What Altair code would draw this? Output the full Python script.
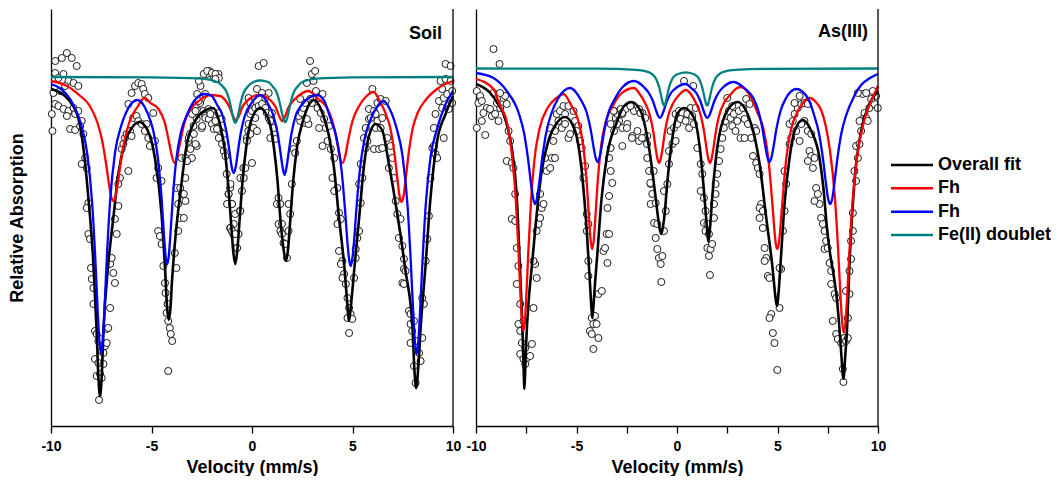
import altair as alt
import pandas as pd

# ---------------- Soil panel ----------------
soil_counts = [
    (-9.79, 365), (-9.46, 368), (-9.21, 373), (-8.97, 368), (-8.72, 360),
    (-9.79, 353), (-9.63, 348), (-9.38, 352), (-9.13, 345), (-8.88, 343), (-8.64, 340),
    (-9.88, 333), (-9.30, 340), (-9.55, 335), (-9.79, 322), (-9.63, 320), (-9.38, 317),
    (-9.13, 315), (-8.88, 318), (-9.96, 312), (-9.21, 310), (-8.80, 312), (-8.64, 315),
    (-8.47, 305), (-9.05, 297), (-8.80, 296), (-9.93, 295), (-8.55, 300), (-8.39, 292),
    (-8.30, 268), (-8.47, 262), (-8.22, 258), (-8.14, 223), (-8.22, 218), (-8.14, 192),
    (-8.06, 187), (-8.01, 158), (-7.97, 147), (-7.89, 138), (-7.89, 122), (-7.81, 95),
    (-7.73, 92), (-7.64, 85), (-7.56, 87), (-7.48, 75), (-7.39, 73), (-7.31, 80),
    (-7.23, 83), (-7.81, 67), (-7.64, 63), (-7.73, 50), (-7.56, 52), (-7.48, 48),
    (-7.39, 62), (-7.61, 26), (-7.23, 97), (-7.15, 98), (-7.06, 118), (-7.06, 162),
    (-6.98, 168), (-6.90, 153), (-6.82, 143), (-6.73, 192), (-6.82, 207), (-6.65, 220),
    (-6.57, 248), (-6.65, 242), (-6.48, 277), (-6.40, 282), (-6.32, 288), (-6.15, 255),
    (-6.24, 292), (-6.07, 295), (-5.99, 290), (-5.91, 308), (-5.74, 310), (-6.15, 322),
    (-5.99, 333), (-5.82, 340), (-5.66, 343), (-5.49, 342), (-5.41, 337), (-5.33, 332),
    (-5.16, 328), (-5.66, 305), (-5.49, 302), (-5.24, 302), (-5.33, 295), (-5.16, 288),
    (-5.08, 280), (-4.91, 313), (-4.83, 285), (-4.67, 258), (-4.75, 248), (-4.50, 245),
    (-4.67, 195), (-4.58, 190), (-4.50, 182), (-4.41, 160), (-4.33, 143), (-4.30, 133),
    (-4.20, 122), (-4.25, 113), (-4.17, 105), (-4.09, 98), (-4.04, 92), (-3.97, 85),
    (-4.17, 55), (-3.84, 173), (-3.76, 158), (-3.67, 195), (-3.59, 208), (-3.67, 222),
    (-3.76, 238), (-3.51, 268),
    (-3.57, 238), (-3.49, 232), (-3.32, 248), (-3.24, 265), (-3.16, 285), (-3.08, 292),
    (-2.99, 268), (-2.75, 280), (-2.91, 300), (-2.75, 307), (-2.66, 315), (-2.58, 323),
    (-2.50, 328), (-2.33, 332), (-2.25, 352), (-2.12, 355), (-1.92, 350), (-1.67, 352),
    (-2.42, 315), (-2.17, 317), (-2.33, 310), (-2.50, 298), (-1.92, 310), (-1.67, 313),
    (-1.75, 298), (-1.51, 307), (-1.59, 295), (-1.42, 292), (-1.26, 252), (-1.09, 238),
    (-1.17, 232), (-1.01, 222), (-1.09, 198), (-1.01, 195), (-0.93, 192), (-0.84, 212),
    (-0.76, 178), (-0.67, 192), (-0.60, 215), (-0.51, 248), (-0.43, 258), (-0.26, 288),
    (-0.18, 295),
    (-3.39, 232), (-3.31, 225), (-3.39, 208), (-3.31, 268), (-3.23, 265), (-3.06, 277),
    (-2.81, 282), (-3.14, 288), (-2.89, 292), (-2.98, 312), (-2.81, 315), (-2.65, 325),
    (-2.73, 332), (-2.56, 340), (-2.65, 345), (-2.40, 352), (-2.23, 355), (-1.99, 353),
    (-1.82, 352), (-1.65, 348), (-1.82, 347), (-2.48, 300), (-2.32, 308), (-2.15, 307),
    (-2.07, 312), (-1.99, 302), (-1.90, 297), (-1.74, 297), (-1.65, 288), (-1.82, 305),
    (-1.49, 282), (-1.41, 275), (-1.32, 270), (-1.07, 242), (-1.16, 232), (-1.24, 222),
    (-0.99, 222), (-0.91, 202), (-1.07, 198), (-0.99, 195), (-0.83, 192), (-0.74, 178),
    (-0.58, 215), (-0.50, 235), (-0.58, 248), (-0.41, 248), (0.00, 263), (-0.33, 258),
    (-0.25, 285), (-0.08, 292), (-0.17, 302), (0.08, 298), (0.16, 308), (0.25, 295),
    (-0.08, 312), (0.00, 315), (0.16, 318), (0.33, 320), (0.50, 322), (0.66, 318),
    (0.74, 313), (0.83, 308), (0.91, 305), (0.99, 313), (1.08, 298), (0.91, 288),
    (1.16, 287), (0.33, 360), (0.58, 363), (-0.17, 328), (-0.08, 323), (0.25, 337),
    (0.50, 333), (0.83, 333), (0.66, 328), (1.32, 228), (1.24, 222), (1.41, 222),
    (1.32, 202), (1.49, 202), (1.41, 195), (1.49, 192), (1.57, 183), (1.65, 182),
    (1.74, 168), (1.82, 195), (1.90, 212), (1.82, 222), (1.98, 242), (2.07, 277),
    (2.15, 273), (2.23, 285), (2.40, 305), (2.32, 310), (2.48, 313), (2.56, 318),
    (2.65, 303), (2.81, 302), (2.73, 307), (2.40, 327), (2.65, 323), (2.89, 327),
    (2.98, 323), (2.73, 343), (2.98, 352), (2.89, 365), (3.14, 355), (3.06, 345),
    (3.18, 335), (3.34, 328), (3.51, 332), (3.26, 318), (3.42, 313), (3.59, 307),
    (3.34, 298), (3.67, 298), (3.84, 300), (3.51, 280), (3.76, 285), (3.92, 277),
    (4.09, 268), (4.00, 248), (4.25, 238), (4.09, 235), (4.33, 213), (4.42, 207),
    (4.25, 202), (4.33, 175), (4.50, 165), (4.42, 162), (4.58, 152), (4.50, 148),
    (4.67, 142), (4.75, 128), (4.83, 118), (4.91, 112), (4.75, 108), (4.99, 107),
    (4.83, 93), (5.08, 148), (5.16, 168), (5.24, 188), (5.33, 195), (5.16, 177),
    (5.41, 223), (5.33, 242), (5.49, 248), (5.41, 262), (5.66, 278), (5.57, 288),
    (5.74, 285), (5.82, 307), (5.66, 298), (5.91, 308), (5.82, 317), (6.07, 315),
    (6.15, 312), (6.24, 305), (6.15, 298), (6.40, 298), (6.07, 277), (6.32, 277),
    (6.48, 278), (6.24, 323), (6.40, 327), (6.65, 325), (6.48, 308), (5.99, 337),
    (6.73, 288), (6.90, 280), (6.98, 268), (6.81, 258), (7.06, 248), (7.15, 225),
    (7.23, 212), (7.39, 207), (7.31, 188), (7.48, 180), (7.56, 167), (7.56, 157),
    (7.64, 155), (7.48, 143), (7.56, 142), (7.81, 115), (7.89, 112), (7.89, 102),
    (8.06, 105), (7.97, 95), (7.89, 83), (8.14, 85), (8.31, 73), (8.39, 65),
    (8.06, 60), (8.14, 43), (8.47, 88), (8.55, 122), (8.47, 128), (8.64, 165),
    (8.72, 187), (8.80, 210), (8.88, 248), (8.97, 278), (9.05, 280), (9.13, 272),
    (9.21, 268), (9.05, 298), (9.13, 312), (9.46, 318), (9.30, 325), (9.54, 328),
    (9.71, 332), (9.46, 337), (9.38, 345), (9.63, 347), (9.88, 345), (9.96, 335),
    (9.54, 288), (9.79, 317), (9.96, 323), (9.63, 362), (9.88, 360),
]

soil_overall = [
    (-10, 337), (-9.6, 334), (-9.3, 330), (-8.9, 320), (-8.64, 308), (-8.4, 280),
    (-8.14, 228), (-7.89, 162), (-7.73, 95), (-7.64, 48), (-7.56, 30), (-7.48, 48),
    (-7.39, 95), (-7.15, 162), (-6.9, 208), (-6.65, 252), (-6.32, 284), (-5.95, 299),
    (-5.6, 304), (-5.2, 296), (-4.83, 268), (-4.5, 212), (-4.32, 155), (-4.22, 117),
    (-4.14, 106), (-4.06, 117), (-3.98, 145), (-3.78, 195), (-3.57, 232), (-3.24, 282),
    (-2.74, 308), (-2.3, 316), (-1.94, 318), (-1.6, 302), (-1.35, 275), (-1.18, 240),
    (-1.03, 200), (-0.93, 174), (-0.83, 162), (-0.73, 176), (-0.62, 205), (-0.47, 245),
    (-0.28, 280), (-0.05, 305), (0.4, 318), (0.85, 305), (1.08, 280), (1.27, 245),
    (1.42, 205), (1.57, 177), (1.69, 165), (1.8, 178), (1.9, 205), (2.05, 245),
    (2.25, 280), (2.55, 306), (3.1, 326), (3.5, 313), (3.83, 290), (4.08, 258),
    (4.33, 208), (4.6, 158), (4.73, 125), (4.83, 105), (4.93, 122), (5.08, 155),
    (5.33, 208), (5.57, 260), (5.82, 290), (6.15, 302), (6.49, 295), (6.81, 262),
    (7.23, 212), (7.64, 155), (7.98, 100), (8.08, 56), (8.17, 38), (8.27, 58),
    (8.39, 98), (8.64, 162), (8.88, 228), (9.21, 285), (9.63, 312), (10, 330),
]

soil_fh_red = [
    (-10, 345), (-9.2, 340), (-8.6, 331), (-8.1, 321), (-7.7, 304), (-7.45, 285),
    (-7.25, 261), (-7.1, 240), (-7.0, 229), (-6.9, 225), (-6.8, 229), (-6.7, 240),
    (-6.55, 261), (-6.35, 285), (-6.1, 304), (-5.7, 319), (-5.35, 328), (-5.05, 323),
    (-4.65, 317), (-4.35, 304), (-4.1, 281), (-4.0, 271), (-3.85, 263), (-3.7, 271),
    (-3.6, 281), (-3.35, 304), (-3.05, 317), (-2.65, 325), (-2.1, 331), (-1.6, 330),
    (-1.3, 325), (-1.1, 318), (-0.95, 310), (-0.8, 306), (-0.65, 310), (-0.5, 318),
    (-0.3, 324), (0.0, 329), (0.35, 331), (0.7, 329), (1.0, 324), (1.2, 318),
    (1.35, 310), (1.5, 305), (1.65, 310), (1.8, 318), (2.0, 324), (2.3, 330),
    (2.8, 335), (3.3, 327), (3.7, 319), (4.0, 305), (4.25, 282), (4.35, 271),
    (4.5, 263), (4.65, 271), (4.75, 282), (5.0, 305), (5.3, 319), (5.7, 330),
    (6.05, 334), (6.35, 325), (6.64, 313), (6.89, 297), (7.09, 272), (7.24, 246),
    (7.34, 230), (7.44, 224), (7.54, 230), (7.64, 246), (7.79, 272), (7.99, 297),
    (8.24, 313), (8.64, 326), (9.2, 337), (10, 345),
]

soil_fh_blue = [
    (-10, 342), (-9.5, 337), (-8.91, 322), (-8.51, 302), (-8.21, 274), (-7.96, 225),
    (-7.79, 165), (-7.67, 112), (-7.59, 84), (-7.51, 73), (-7.43, 84), (-7.35, 112),
    (-7.23, 165), (-7.06, 225), (-6.81, 274), (-6.51, 300), (-6.15, 318), (-5.7, 326),
    (-5.22, 314), (-4.92, 296), (-4.67, 266), (-4.5, 228), (-4.38, 191), (-4.3, 170),
    (-4.22, 162), (-4.14, 170), (-4.06, 191), (-3.94, 228), (-3.77, 266), (-3.52, 295),
    (-3.22, 312), (-2.8, 327), (-2.35, 332), (-2.0, 330), (-1.76, 322), (-1.46, 310),
    (-1.26, 293), (-1.11, 273), (-1.01, 259), (-0.91, 253), (-0.81, 259), (-0.71, 273),
    (-0.56, 293), (-0.36, 310), (-0.06, 322), (0.45, 331), (0.77, 323), (1.07, 310),
    (1.27, 293), (1.42, 273), (1.52, 259), (1.62, 251), (1.72, 259), (1.82, 273),
    (1.97, 293), (2.17, 310), (2.47, 321), (2.9, 329), (3.25, 331), (3.6, 325),
    (3.91, 307), (4.21, 288), (4.46, 255), (4.63, 216), (4.75, 183), (4.83, 167),
    (4.91, 160), (4.99, 167), (5.07, 183), (5.19, 216), (5.36, 255), (5.61, 288),
    (5.91, 307), (6.25, 320), (6.55, 325), (6.85, 317), (7.19, 298), (7.49, 270),
    (7.74, 220), (7.91, 160), (8.03, 110), (8.11, 83), (8.19, 72), (8.27, 83),
    (8.35, 110), (8.47, 160), (8.64, 220), (8.89, 270), (9.19, 296), (9.59, 320),
    (10, 335),
]

soil_fe2 = [
    (-10, 349), (-5, 348.6), (-2.5, 347.3), (-1.68, 343.5), (-1.43, 339), (-1.26, 334),
    (-1.11, 324.5), (-0.98, 312), (-0.9, 305.5), (-0.83, 303), (-0.76, 305.5),
    (-0.68, 312), (-0.55, 324.5), (-0.4, 334), (-0.23, 339), (0.07, 344), (0.41, 345.5),
    (0.8, 344), (1.05, 339), (1.22, 334), (1.37, 324), (1.5, 312), (1.58, 306),
    (1.65, 304), (1.72, 306), (1.8, 312), (1.93, 324), (2.08, 334), (2.25, 339),
    (2.5, 344), (3.2, 347.3), (5, 348.6), (10, 349),
]

# ---------------- As(III) panel ----------------
as_counts = [
    (-9.13, 377), (-8.83, 362), (-9.96, 335), (-9.79, 330), (-9.88, 323), (-9.71, 325),
    (-9.46, 318), (-9.30, 317), (-9.63, 313), (-9.71, 305), (-9.96, 298), (-9.54, 291),
    (-9.21, 310), (-9.05, 312), (-8.88, 305), (-8.80, 318), (-8.96, 323), (-8.63, 328),
    (-8.55, 330), (-9.13, 333), (-8.80, 333), (-8.47, 322), (-8.38, 295), (-8.30, 285),
    (-8.47, 265), (-8.22, 263), (-8.14, 258), (-8.05, 232), (-8.22, 207), (-8.05, 205),
    (-7.97, 178), (-7.89, 160), (-7.97, 142), (-7.80, 122), (-7.89, 102), (-7.80, 95),
    (-7.64, 105), (-7.72, 83), (-7.55, 78), (-7.80, 72), (-7.64, 67), (-7.47, 68),
    (-7.31, 70), (-7.55, 62), (-7.22, 82), (-7.14, 118), (-7.06, 162), (-6.98, 148),
    (-7.14, 165), (-6.98, 195), (-6.89, 202), (-6.81, 208), (-6.73, 218), (-6.64, 222),
    (-6.81, 232), (-6.56, 268), (-6.48, 255), (-6.31, 258), (-6.23, 268), (-6.07, 268),
    (-6.15, 285), (-6.31, 298), (-6.07, 295), (-5.90, 305), (-5.73, 298), (-5.57, 302),
    (-5.40, 288), (-5.32, 292), (-5.98, 312), (-5.82, 315), (-5.65, 320), (-5.57, 312),
    (-5.40, 320), (-5.15, 315), (-5.07, 305), (-4.91, 300), (-4.99, 295), (-4.82, 285),
    (-4.74, 278), (-4.57, 260), (-4.66, 248), (-4.49, 212), (-4.41, 202), (-4.49, 195),
    (-4.41, 165), (-4.41, 150), (-4.24, 108), (-4.08, 110), (-4.16, 102), (-4.00, 102),
    (-4.33, 95), (-4.24, 92), (-4.16, 77), (-3.91, 88), (-3.91, 132), (-3.74, 135),
    (-3.66, 175), (-3.58, 178), (-3.50, 192),
    (-3.46, 218), (-3.38, 192), (-3.46, 163), (-3.38, 230), (-3.30, 255), (-3.22, 243),
    (-3.38, 268), (-3.30, 278), (-3.13, 295), (-3.30, 302), (-3.05, 308), (-2.97, 312),
    (-2.80, 317), (-3.13, 315), (-2.72, 312), (-2.55, 317), (-2.30, 320), (-2.14, 315),
    (-1.89, 317), (-1.72, 313), (-2.88, 305), (-2.72, 298), (-2.47, 302), (-2.22, 290),
    (-1.97, 295), (-1.64, 288), (-1.48, 290), (-2.72, 280), (-1.89, 285), (-1.48, 268),
    (-1.39, 255), (-1.31, 242), (-1.23, 232), (-1.31, 222), (-1.06, 223), (-1.14, 203),
    (-0.98, 202), (-1.06, 188), (-0.98, 177), (-0.90, 168), (-0.81, 162), (-0.73, 170),
    (-0.78, 144), (-0.65, 195), (-0.56, 215), (-0.65, 235), (-0.48, 242), (-0.40, 262),
    (-0.40, 275), (-0.23, 282), (-0.07, 285), (-0.32, 295), (-0.15, 298), (0.02, 302),
    (-0.07, 312), (0.10, 315), (0.26, 313), (0.18, 307), (0.43, 305), (0.60, 298),
    (0.51, 312), (0.76, 310), (0.84, 302), (0.68, 318), (0.35, 345), (0.81, 340),
    (0.93, 318), (1.01, 278), (1.18, 262), (1.26, 252), (1.18, 235), (1.34, 228),
    (1.42, 215), (1.34, 203), (1.51, 202), (1.42, 195), (1.59, 192), (1.51, 178),
    (1.67, 177), (1.59, 170), (1.75, 182), (1.64, 151), (1.84, 208), (1.84, 222),
    (1.92, 232), (1.92, 242), (2.00, 252), (2.09, 265), (2.17, 277), (2.25, 288),
    (2.33, 298), (2.42, 305), (2.50, 310), (2.58, 315), (2.67, 308), (2.75, 300),
    (2.91, 295), (2.83, 312), (3.00, 305), (3.08, 315), (2.50, 328), (2.75, 320),
    (3.16, 288),
    (-3.15, 315), (-2.73, 313), (-2.32, 320), (-1.82, 313), (-1.58, 308), (-2.98, 302),
    (-2.49, 298), (-2.24, 288), (-1.74, 288), (-1.49, 282), (-1.16, 255), (-1.33, 243),
    (3.44, 327), (3.28, 318), (3.61, 322), (3.36, 307), (3.53, 302), (3.86, 298),
    (3.69, 288), (3.36, 288), (3.94, 295), (3.78, 270), (3.94, 263), (4.02, 258),
    (4.11, 252), (4.19, 222), (4.11, 218), (4.27, 215), (4.11, 208), (4.27, 198),
    (4.36, 178), (4.44, 168), (4.36, 165), (4.52, 150), (4.60, 148), (4.69, 112),
    (4.60, 108), (4.77, 93), (4.85, 83), (4.99, 56), (5.10, 118), (5.18, 157),
    (5.10, 158), (5.27, 195), (5.35, 215), (5.43, 242), (5.35, 255), (5.60, 282),
    (5.68, 288), (5.60, 302), (5.76, 305), (5.85, 312), (6.01, 318), (6.18, 322),
    (6.34, 323), (6.51, 322), (5.85, 323), (6.10, 330), (6.34, 305), (6.18, 302),
    (5.93, 295), (6.51, 295), (6.68, 292), (6.10, 285), (6.59, 275), (6.68, 270),
    (6.51, 265), (6.84, 268), (6.76, 258), (6.92, 238), (7.01, 232), (7.09, 222),
    (6.84, 225), (7.17, 208), (7.26, 202), (7.34, 195), (7.42, 185), (7.34, 177),
    (7.50, 178), (7.59, 163), (7.67, 155), (7.67, 142), (7.84, 132), (7.92, 128),
    (7.75, 105), (7.92, 92), (8.00, 87), (8.17, 83), (8.25, 87), (8.33, 88),
    (8.41, 85), (8.25, 57), (8.28, 44), (8.50, 88), (8.50, 108), (8.58, 132),
    (8.41, 135), (8.58, 155), (8.66, 167), (8.66, 185), (8.75, 195), (8.75, 213),
    (8.91, 245), (8.83, 255), (9.00, 268), (8.91, 280), (9.08, 282), (9.16, 295),
    (9.24, 307), (9.08, 305), (9.33, 313), (9.41, 308), (9.49, 305), (9.57, 318),
    (9.24, 332), (9.41, 333), (9.74, 335), (9.91, 330), (9.82, 322), (9.99, 318),
    (9.66, 327), (9.00, 333),
]

as_overall = [
    (-10, 342), (-9.29, 333), (-8.9, 322), (-8.63, 312), (-8.4, 296), (-8.22, 278),
    (-7.97, 228), (-7.8, 152), (-7.67, 85), (-7.63, 57), (-7.59, 37), (-7.55, 57),
    (-7.5, 85), (-7.36, 130), (-7.23, 158), (-6.98, 212), (-6.73, 255), (-6.4, 285),
    (-5.98, 303), (-5.57, 309), (-5.07, 295), (-4.74, 255), (-4.49, 195), (-4.35, 150),
    (-4.28, 125), (-4.21, 108), (-4.14, 125), (-4.07, 145), (-3.99, 165), (-3.75, 228),
    (-3.5, 268), (-2.97, 305), (-2.63, 320), (-2.27, 324), (-1.81, 315), (-1.39, 278),
    (-1.06, 228), (-0.92, 205), (-0.85, 196), (-0.78, 192), (-0.7, 199), (-0.6, 215),
    (-0.52, 235), (-0.23, 288), (0.01, 312), (0.35, 318), (0.85, 308), (1.17, 272),
    (1.37, 228), (1.47, 203), (1.56, 184), (1.65, 200), (1.75, 228), (2.0, 278),
    (2.42, 312), (3.0, 324), (3.69, 302), (4.11, 262), (4.44, 208), (4.77, 155),
    (4.88, 132), (4.97, 120), (5.06, 135), (5.15, 162), (5.35, 222), (5.6, 268),
    (5.85, 295), (6.26, 306), (6.68, 295), (7.09, 268), (7.3, 235), (7.45, 200),
    (7.62, 172), (7.8, 150), (7.95, 128), (8.08, 98), (8.18, 70), (8.28, 47),
    (8.37, 70), (8.46, 97), (8.58, 162), (8.83, 245), (9.16, 295), (9.57, 322),
    (10, 335),
]

as_fh_red = [
    (-10, 347), (-9.13, 337), (-8.84, 322), (-8.44, 302), (-8.19, 267), (-8.02, 226),
    (-7.89, 177), (-7.8, 137), (-7.72, 107), (-7.64, 95), (-7.56, 107), (-7.48, 137),
    (-7.39, 177), (-7.26, 226), (-7.09, 267), (-6.84, 297), (-6.44, 318), (-6.0, 328),
    (-5.65, 332), (-5.22, 319), (-4.92, 306), (-4.67, 281), (-4.5, 246), (-4.38, 209),
    (-4.3, 186), (-4.22, 177), (-4.14, 186), (-4.06, 209), (-3.94, 246), (-3.77, 281),
    (-3.52, 306), (-3.22, 319), (-2.8, 332), (-2.14, 338), (-1.89, 333), (-1.59, 323),
    (-1.34, 310), (-1.17, 293), (-1.05, 276), (-0.97, 267), (-0.89, 263), (-0.81, 267),
    (-0.73, 276), (-0.61, 293), (-0.44, 310), (-0.19, 323), (0.1, 331), (0.43, 336),
    (0.72, 331), (0.94, 323), (1.19, 310), (1.36, 293), (1.48, 276), (1.56, 267),
    (1.64, 263), (1.72, 267), (1.8, 276), (1.92, 293), (2.09, 310), (2.34, 323),
    (2.64, 331), (3.0, 338), (3.2, 339), (3.69, 328), (3.99, 314), (4.29, 298),
    (4.54, 268), (4.71, 231), (4.83, 200), (4.91, 183), (4.99, 177), (5.07, 183),
    (5.15, 200), (5.27, 231), (5.44, 268), (5.69, 298), (5.99, 314), (6.3, 324),
    (6.6, 328), (6.95, 323), (7.17, 316), (7.4, 300), (7.6, 277), (7.85, 230),
    (8.02, 175), (8.14, 128), (8.22, 103), (8.3, 93), (8.38, 103), (8.46, 128),
    (8.58, 175), (8.75, 228), (8.95, 268), (9.32, 306), (9.82, 332), (10, 340),
]

as_fh_blue = [
    (-10, 353), (-9.13, 348), (-8.47, 335), (-7.86, 312), (-7.61, 293), (-7.41, 267),
    (-7.26, 242), (-7.16, 228), (-7.06, 222), (-6.96, 228), (-6.86, 242), (-6.71, 267),
    (-6.51, 293), (-6.26, 312), (-5.9, 328), (-5.32, 338), (-4.75, 325), (-4.5, 314),
    (-4.3, 297), (-4.15, 279), (-4.05, 268.5), (-3.95, 264), (-3.85, 268.5), (-3.75, 279),
    (-3.6, 297), (-3.4, 314), (-3.15, 325), (-2.7, 339), (-2.14, 345), (-1.65, 339),
    (-1.4, 333), (-1.2, 325), (-1.05, 316), (-0.95, 310.5), (-0.85, 308), (-0.75, 310.5),
    (-0.65, 316), (-0.5, 325), (-0.3, 333), (-0.05, 338), (0.43, 342), (0.71, 338),
    (0.96, 333), (1.16, 325), (1.31, 316), (1.41, 310.5), (1.51, 308), (1.61, 310.5),
    (1.71, 316), (1.86, 325), (2.06, 333), (2.31, 339), (2.83, 344), (3.4, 337),
    (3.8, 328), (4.05, 315), (4.25, 297.5), (4.4, 279), (4.5, 268.5), (4.6, 264),
    (4.7, 268.5), (4.8, 279), (4.95, 297.5), (5.15, 315), (5.4, 327), (5.93, 337),
    (6.51, 328), (6.82, 311), (7.07, 292), (7.27, 266), (7.42, 241), (7.52, 227),
    (7.62, 222), (7.72, 227), (7.82, 241), (7.97, 266), (8.17, 292), (8.42, 311),
    (8.82, 330), (9.16, 341), (9.6, 348), (10, 352),
]

as_fe2 = [
    (-10, 357.5), (-4, 357.3), (-2.04, 356.2), (-1.54, 354.6), (-1.24, 351.8),
    (-1.04, 347), (-0.89, 339), (-0.77, 328.5), (-0.7, 322.5), (-0.64, 320.5),
    (-0.58, 322.5), (-0.51, 328.5), (-0.39, 339), (-0.24, 347), (-0.04, 351.2),
    (0.43, 353.7), (0.9, 351.2), (1.1, 347), (1.25, 339), (1.37, 328.5), (1.44, 322.5),
    (1.5, 320.5), (1.56, 322.5), (1.63, 328.5), (1.75, 339), (1.9, 347), (2.1, 351.8),
    (2.4, 354.6), (2.9, 356.2), (4.5, 357.2), (10, 357.5),
]

legend_labels = ["Overall fit", "Fh", "Fh", "Fe(II) doublet"]
legend_colors = ["#000000", "#ff0000", "#0000ff", "#008080"]
panel_titles = ["Soil", "As(III)"]

FONT = "Liberation Sans"


def frame(pairs):
    return pd.DataFrame(pairs, columns=["v", "y"])


def panel(counts, overall, red, blue, teal, title, tick_values, label_expr, y_title, title_x, title_y):
    x_axis = alt.Axis(
        values=tick_values, labelExpr=label_expr, title="Velocity (mm/s)",
        grid=False, domainColor="black", domainWidth=1.3, tickColor="black",
        tickWidth=1.3, tickSize=7, labelFont=FONT, labelFontSize=14,
        labelFontWeight="bold", labelColor="black", labelPadding=6,
        labelFlush=False, titleFont=FONT, titleFontSize=18,
        titleFontWeight="bold", titleColor="black", titlePadding=5,
    )
    y_axis = alt.Axis(
        title=y_title, labels=False, ticks=False, grid=False,
        domainColor="black", domainWidth=1.3, titleFont=FONT,
        titleFontSize=18, titleFontWeight="bold", titleColor="black",
        titlePadding=25,
    )
    xscale = alt.Scale(domain=[-10, 10], nice=False, zero=False)
    xenc = alt.X("v:Q", scale=xscale, axis=x_axis)
    yenc = alt.Y("y:Q", scale=alt.Scale(domain=[0, 417], nice=False, zero=False), axis=y_axis)

    pts = alt.Chart(frame(counts)).mark_point(
        shape="circle", filled=True, fill="white", stroke="#111111",
        strokeWidth=0.95, size=50, opacity=1,
    ).encode(x=xenc, y=yenc)

    def line(pairs, color, width):
        return alt.Chart(frame(pairs)).mark_line(
            color=color, strokeWidth=width, interpolate="monotone"
        ).encode(x=xenc, y=yenc)

    edge = alt.Chart(frame([(10, 0)])).mark_rule(color="black", strokeWidth=1.3).encode(
        x=alt.X("v:Q", scale=xscale, axis=x_axis)
    )
    label = alt.Chart(pd.DataFrame({"t": [title]})).mark_text(
        align="right", baseline="middle", font=FONT, fontSize=18,
        fontWeight="bold", color="black",
    ).encode(x=alt.datum(title_x), y=alt.datum(title_y), text="t:N")

    return alt.layer(
        pts,
        line(overall, legend_colors[0], 2.6),
        line(red, legend_colors[1], 2.3),
        line(blue, legend_colors[2], 2.3),
        line(teal, legend_colors[3], 2.3),
        edge,
        label,
    ).properties(width=402, height=417)


left = panel(soil_counts, soil_overall, soil_fh_red, soil_fh_blue, soil_fe2,
             panel_titles[0], [-10, -5, 0, 5, 10], "datum.value + ''",
             "Relative Absorption", 9.45, 392)
right = panel(as_counts, as_overall, as_fh_red, as_fh_blue, as_fe2,
              panel_titles[1], [-10, -7.5, -5, -2.5, 0, 2.5, 5, 7.5, 10],
              "datum.value % 5 == 0 ? datum.value + '' : ''",
              None, 9.5, 394)

leg_df = pd.DataFrame({"k": list(range(len(legend_labels))),
                       "label": legend_labels, "c": legend_colors})
leg_y = alt.Y("k:Q", scale=alt.Scale(domain=[0, 3], range=[156, 226]), axis=None)
leg_rules = alt.Chart(leg_df).mark_rule(strokeWidth=2.5).encode(
    x=alt.value(-10), x2=alt.value(32), y=leg_y, color=alt.Color("c:N", scale=None)
)
leg_text = alt.Chart(leg_df).mark_text(
    align="left", baseline="middle", font=FONT, fontSize=18,
    fontWeight="bold", color="black",
).encode(x=alt.value(37), y=leg_y, text="label:N")
legend_panel = alt.layer(leg_rules, leg_text).properties(width=120, height=417)

chart = alt.hconcat(left, right, legend_panel, spacing=23, bounds="flush").properties(
    padding={"left": 0, "top": 0, "right": 0, "bottom": 0}
).configure_view(stroke=None)

chart.save("out.html", embed_options={"renderer": "svg", "actions": False})
